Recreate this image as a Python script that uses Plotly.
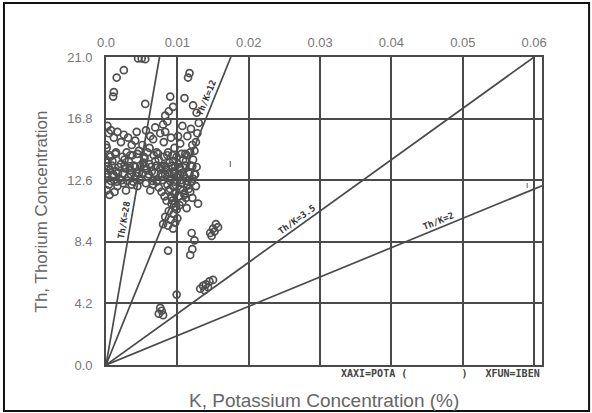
import math
import plotly.graph_objects as go

# ---- data ----
x_ticks = [0.0, 0.01, 0.02, 0.03, 0.04, 0.05, 0.06]
x_tick_labels = ["0.0", "0.01", "0.02", "0.03", "0.04", "0.05", "0.06"]
y_ticks = [0.0, 4.2, 8.4, 12.6, 16.8, 21.0]
y_tick_labels = ["0.0", "4.2", "8.4", "12.6", "16.8", "21.0"]

ratio_values = [2800, 1200, 350, 200]
ratio_labels = ["Th/K=28", "Th/K=12", "Th/K=3.5", "Th/K=2"]

k_upper = [0.0045, 0.0050, 0.0055, 0.0015, 0.0025, 0.0010, 0.0011, 0.0055, 0.0090, 0.0094,
           0.0115, 0.0117, 0.0110, 0.0122, 0.0127, 0.0083, 0.0086, 0.0088, 0.0080, 0.0130,
           0.0128, 0.0126, 0.0124, 0.0122, 0.0127, 0.0125, 0.0119, 0.0121]
th_upper = [20.9, 20.9, 20.85, 19.6, 20.1, 18.3, 18.6, 17.8, 18.3, 17.6,
            19.6, 19.9, 18.2, 17.7, 17.2, 17.0, 16.6, 17.3, 16.4, 16.5,
            15.8, 15.2, 14.6, 14.0, 13.5, 13.0, 16.1, 15.0]

k_mid = [0.0004, 0.0011, 0.0016, 0.0021, 0.0031, 0.0036, 0.0041, 0.0046, 0.0051, 0.0056,
         0.0061, 0.0066, 0.0071, 0.0076, 0.0081, 0.0086, 0.0091, 0.0096, 0.0104, 0.0111,
         0.0114, 0.0001, 0.0006, 0.0014, 0.0026, 0.0034, 0.0054, 0.0074, 0.0094, 0.0108,
         0.0002, 0.0007, 0.0025, 0.0043, 0.0062, 0.0069, 0.0083, 0.0101, 0.0107,
         0.0000, 0.0000, 0.0000]
th_mid = [15.8, 15.5, 15.9, 15.2, 15.5, 15.0, 15.3, 14.6, 15.0, 16.0,
          14.8, 15.4, 14.5, 15.8, 15.2, 14.3, 15.5, 14.8, 15.1, 14.4,
          15.6, 14.8, 14.2, 14.5, 14.0, 14.3, 14.1, 14.0, 13.9, 14.0,
          16.3, 16.0, 15.7, 15.9, 15.6, 16.2, 15.9, 15.6, 16.3,
          13.0, 14.0, 15.0]

k_dense = [0.0002, 0.0009, 0.0021, 0.0032, 0.0039, 0.0052, 0.0061, 0.0069, 0.0082, 0.0089, 0.0101, 0.0112, 0.0119,
           0.0006, 0.0014, 0.0027, 0.0034, 0.0046, 0.0057, 0.0064, 0.0076, 0.0084, 0.0096, 0.0104, 0.0116,
           0.0001, 0.0011, 0.0019, 0.0031, 0.0042, 0.0049, 0.0059, 0.0072, 0.0079, 0.0091, 0.0099, 0.0109, 0.0122,
           0.0004, 0.0016, 0.0024, 0.0036, 0.0044, 0.0056, 0.0066, 0.0074, 0.0086, 0.0094, 0.0106, 0.0114, 0.0126,
           0.0001, 0.0012, 0.0028, 0.0062, 0.0078, 0.0088, 0.0098, 0.0108, 0.0118,
           0.0082, 0.0092, 0.0102, 0.0112, 0.0005]
th_dense = [13.8, 13.9, 13.7, 13.9, 13.6, 13.8, 13.7, 13.9, 13.6, 13.8, 13.7, 13.9, 13.6,
            13.3, 13.2, 13.4, 13.3, 13.1, 13.3, 13.2, 13.4, 13.3, 13.2, 13.4, 13.1,
            12.8, 12.9, 12.7, 12.8, 12.9, 12.7, 12.8, 12.6, 12.9, 12.7, 12.8, 12.9, 12.7,
            12.3, 12.2, 12.4, 12.3, 12.2, 12.4, 12.3, 12.1, 12.3, 12.2, 12.4, 12.3, 12.2,
            11.9, 11.8, 11.9, 11.9, 11.8, 11.9, 11.8, 11.9, 11.8,
            11.5, 11.4, 11.5, 11.4, 11.6]

k_dense2 = [0.0005, 0.0013, 0.0023, 0.0029, 0.0037, 0.0044, 0.0053, 0.0058, 0.0067, 0.0073, 0.0081, 0.0087, 0.0093, 0.0099, 0.0106, 0.0113, 0.0118,
            0.0003, 0.0008, 0.0018, 0.0026, 0.0033, 0.0041, 0.0048, 0.0055, 0.0063, 0.0071, 0.0078, 0.0084, 0.0092, 0.0097, 0.0103, 0.0111, 0.0121,
            0.0002, 0.0010, 0.0017, 0.0024, 0.0035, 0.0043, 0.0051, 0.0060, 0.0068, 0.0077, 0.0083, 0.0089, 0.0095, 0.0101, 0.0107, 0.0117, 0.0124,
            0.0007, 0.0015, 0.0022, 0.0030, 0.0038, 0.0047, 0.0065, 0.0071, 0.0080, 0.0090, 0.0096, 0.0105, 0.0113, 0.0120,
            0.0090, 0.0096, 0.0104, 0.0110, 0.0116, 0.0093, 0.0107, 0.0121, 0.0099, 0.0113]
th_dense2 = [14.3, 14.4, 14.2, 14.5, 14.3, 14.4, 14.2, 14.5, 14.3, 14.4, 14.2, 14.5, 14.3, 14.2, 14.4, 14.3, 14.5,
             13.55, 13.6, 13.5, 13.6, 13.55, 13.5, 13.6, 13.55, 13.5, 13.6, 13.55, 13.5, 13.6, 13.55, 13.5, 13.6, 13.55,
             13.05, 13.0, 13.1, 13.05, 13.0, 13.1, 13.05, 13.0, 13.1, 13.05, 13.0, 13.1, 13.05, 13.0, 13.1, 13.05, 13.0,
             12.55, 12.5, 12.6, 12.55, 12.5, 12.6, 12.55, 12.5, 12.6, 12.55, 12.5, 12.6, 12.55, 12.5,
             12.0, 11.7, 12.0, 11.7, 12.0, 11.2, 11.1, 11.4, 10.6, 10.7]

k_lower = [0.0085, 0.0092, 0.0098, 0.0088, 0.0095, 0.0083, 0.0091, 0.0097, 0.0087, 0.0094,
           0.0100, 0.0080, 0.0103, 0.0129, 0.0110,
           0.0120, 0.0124, 0.0121, 0.0118, 0.0146, 0.0150, 0.0154, 0.0157, 0.0148, 0.0152,
           0.0087, 0.0099,
           0.0132, 0.0136, 0.0140, 0.0145, 0.0150, 0.0138, 0.0143,
           0.0074, 0.0078, 0.0080, 0.0076]
th_lower = [11.2, 11.0, 10.8, 10.5, 10.3, 10.1, 9.9, 9.7, 9.5, 9.3,
            10.0, 9.6, 10.9, 11.0, 11.6,
            9.0, 8.5, 7.9, 7.5, 9.0, 9.3, 9.6, 9.4, 8.8, 9.1,
            7.8, 4.8,
            5.2, 5.4, 5.5, 5.7, 5.8, 5.1, 5.3,
            3.5, 3.7, 3.4, 3.9]

# label anchor K positions along each ratio line
label_k = [0.0035, 0.0150, 0.0272, 0.0470]

x_max = 0.0611
y_max = 21.0

line_col = "#4a4a4a"
pt_col = "#505050"
fig = go.Figure()

for r in ratio_values:
    k_end = min(x_max, y_max / r)
    fig.add_trace(go.Scatter(x=[0, k_end], y=[0, r * k_end], mode="lines",
                             line=dict(color=line_col, width=1.7),
                             showlegend=False, hoverinfo="skip"))

k_all = k_upper + k_mid + k_dense + k_dense2 + k_lower
th_all = th_upper + th_mid + th_dense + th_dense2 + th_lower
fig.add_trace(go.Scatter(x=k_all, y=th_all, mode="markers",
                         marker=dict(symbol="circle-open", size=7, color=pt_col,
                                     line=dict(color=pt_col, width=1.7)),
                         showlegend=False, hoverinfo="skip"))

# plot-area pixel geometry for label rotations
W, H = 436, 308
for r, lab, kx in zip(ratio_values, ratio_labels, label_k):
    slope_px = r * (H / y_max) / (W / x_max)
    ang = math.degrees(math.atan(slope_px))
    d = 7
    fig.add_annotation(x=kx, y=r * kx, text="<b>" + lab + "</b>", showarrow=False,
                       textangle=-ang, font=dict(size=9, color="#333333",
                                                 family="DejaVu Sans Mono"),
                       xshift=-d * math.sin(math.radians(ang)),
                       yshift=d * math.cos(math.radians(ang)))

fig.add_annotation(x=0.0174, y=13.8, text="ı", showarrow=False,
                   font=dict(size=10, color="#333333"))
fig.add_annotation(x=0.0590, y=12.3, text="ı", showarrow=False,
                   font=dict(size=9, color="#333333"))

nb = "&nbsp;"
fig.add_annotation(xref="paper", yref="paper", x=1.0, y=-0.003, xanchor="right",
                   yanchor="top", showarrow=False,
                   text="<b>XAXI=POTA (" + nb * 9 + ")" + nb * 3 + "XFUN=IBEN</b>",
                   font=dict(size=10, color="#444444", family="DejaVu Sans Mono"))

fig.add_annotation(xref="paper", yref="paper", x=0.5, y=-0.115, xanchor="center",
                   yanchor="middle", showarrow=False,
                   text="K, Potassium Concentration (%)",
                   font=dict(size=19, color="#666666", family="Liberation Sans"))
fig.add_annotation(xref="paper", yref="paper", x=-0.148, y=0.5, xanchor="center",
                   yanchor="middle", showarrow=False, textangle=-90,
                   text="Th, Thorium Concentration",
                   font=dict(size=17, color="#666666", family="Liberation Sans"))

# outer border
fig.add_shape(type="rect", xref="paper", yref="paper",
              x0=-0.234, x1=1.108, y0=-0.149, y1=1.175,
              line=dict(color="#111111", width=2), fillcolor="rgba(0,0,0,0)")

fig.update_xaxes(range=[0, x_max], side="top", tickvals=x_ticks, ticktext=x_tick_labels,
                 showgrid=True, gridcolor=line_col, gridwidth=1.7,
                 showline=True, mirror=True, linecolor=line_col, linewidth=1.7,
                 zeroline=False, ticks="", ticklabelstandoff=3,
                 tickfont=dict(size=13, color="#777777", family="Liberation Sans"))
fig.update_yaxes(range=[0, y_max], tickvals=y_ticks, ticktext=y_tick_labels,
                 showgrid=True, gridcolor=line_col, gridwidth=1.7,
                 showline=True, mirror=True, linecolor=line_col, linewidth=1.7,
                 zeroline=False, ticks="", ticklabelstandoff=9,
                 tickfont=dict(size=13, color="#777777", family="Liberation Sans"))

fig.update_layout(width=592, height=413, margin=dict(l=106, r=50, t=57, b=48),
                  paper_bgcolor="white", plot_bgcolor="white", showlegend=False)

fig.write_html("out.html", config={"displayModeBar": False},
               post_script="document.body.style.margin='0';document.body.style.overflow='hidden';")
